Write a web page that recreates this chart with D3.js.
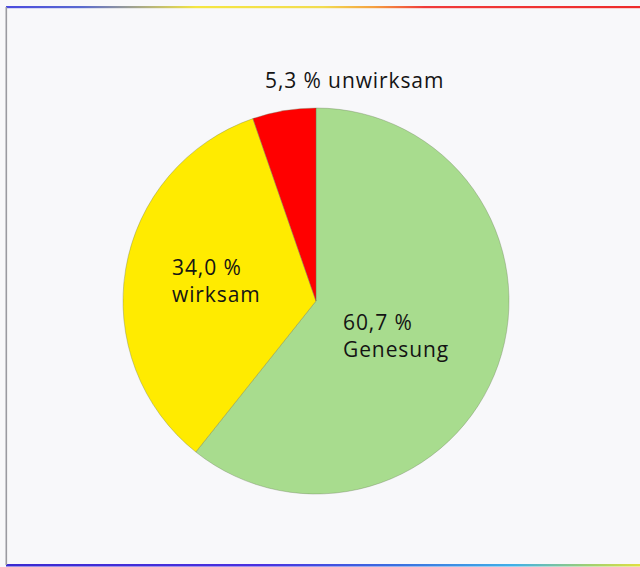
<!DOCTYPE html>
<html><head><meta charset="utf-8">
<script src="https://cdn.jsdelivr.net/npm/d3@7"></script>
<style>html,body{margin:0;padding:0;background:#f8f8fa;}svg{display:block;}</style>
</head><body>
<svg id="c" width="640" height="567"></svg>
<script>
const categories = ["Genesung", "wirksam", "unwirksam"];
const values = [60.7, 34.0, 5.3];
const valueLabels = ["60,7 %", "34,0 %", "5,3 %"];
const colors = ["#a8dc8e", "#ffeb00", "#ff0000"];

const svg = d3.select("#c");
const W = 640, H = 567;
svg.append("rect").attr("width", W).attr("height", H).attr("fill", "#f8f8fa");

// frame gradients
const defs = svg.append("defs");
const gt = defs.append("linearGradient").attr("id", "gt");
[["0%","#4a4adf"],["12%","#5a6ad0"],["30%","#f5e640"],["50%","#f2dc50"],["58%","#f5a040"],["66%","#f03a3a"],["100%","#ee2a2a"]]
  .forEach(s => gt.append("stop").attr("offset", s[0]).attr("stop-color", s[1]));
const gb = defs.append("linearGradient").attr("id", "gb");
[["0%","#3a2ad0"],["40%","#4a30e0"],["62%","#3a70e0"],["80%","#40b0e8"],["92%","#a0d070"],["100%","#e0e040"]]
  .forEach(s => gb.append("stop").attr("offset", s[0]).attr("stop-color", s[1]));

svg.append("rect").attr("x", 6).attr("y", 6).attr("width", W - 6).attr("height", 2.2).attr("fill", "url(#gt)");
svg.append("rect").attr("x", 6).attr("y", 564).attr("width", W - 6).attr("height", 2.5).attr("fill", "url(#gb)");
svg.append("rect").attr("x", 5.5).attr("y", 7).attr("width", 1.6).attr("height", 558).attr("fill", "#9a9aa0");

const cx = 316, cy = 301, R = 193;
const pie = d3.pie().sort(null).value(d => d);
const arcs = pie(values);
const arc = d3.arc().innerRadius(0).outerRadius(R);

const g = svg.append("g").attr("transform", `translate(${cx},${cy})`);
g.selectAll("path").data(arcs).enter().append("path")
  .attr("d", arc)
  .attr("fill", (d, i) => colors[i])
  .attr("stroke", "#6a7a5a").attr("stroke-width", 0.6).attr("stroke-opacity", 0.6);

const font = "'Open Sans', Lato, sans-serif";
const fs = 21;
// label anchors relative to the centre
const labelPos = [
  {dx: 27, dy: 29, two: true},
  {dx: -144, dy: -26, two: true},
  {dx: -51, dy: -213, two: false}
];
arcs.forEach((a, i) => {
  const p = labelPos[i];
  const t = svg.append("text")
    .attr("x", cx + p.dx).attr("y", cy + p.dy)
    .attr("font-family", font).attr("font-size", fs)
    .attr("letter-spacing", 0.9).attr("fill", "#141414");
  if (p.two) {
    t.append("tspan").attr("x", cx + p.dx).text(valueLabels[i]);
    t.append("tspan").attr("x", cx + p.dx).attr("dy", 27).text(categories[i]);
  } else {
    t.text(valueLabels[i] + " " + categories[i]);
  }
});
</script>
</body></html>
